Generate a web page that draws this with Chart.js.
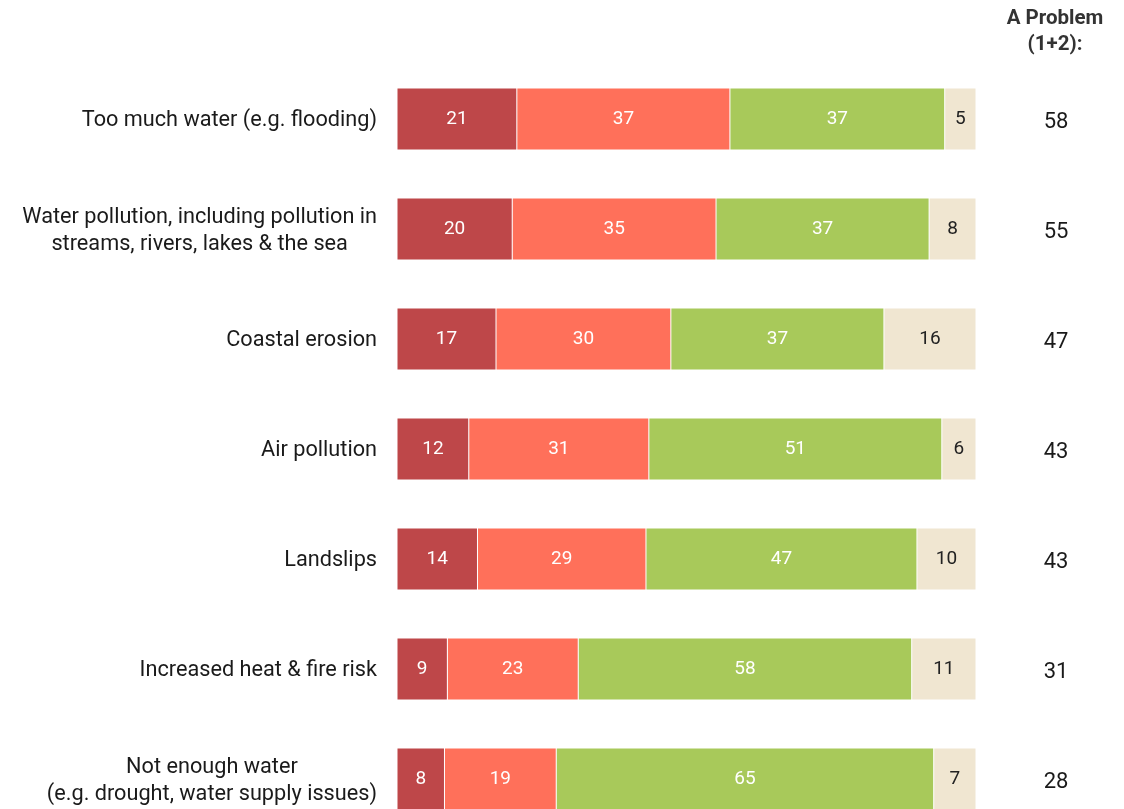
<!DOCTYPE html>
<html>
<head>
<meta charset="utf-8">
<script src="https://cdn.jsdelivr.net/npm/chart.js@4"></script>
<style>
html,body{margin:0;padding:0;background:#fff;overflow:hidden;width:1124px;height:809px;}
canvas{display:block;}
</style>
</head>
<body>
<canvas id="c" width="1124" height="840"></canvas>
<script>
const categories = [
  ["Too much water (e.g. flooding)"],
  ["Water pollution, including pollution in", "streams, rivers, lakes & the sea"],
  ["Coastal erosion"],
  ["Air pollution"],
  ["Landslips"],
  ["Increased heat & fire risk"],
  ["Not enough water", "(e.g. drought, water supply issues)"]
];
const seriesNames = ["1", "2", "3", "4"];
// bar shares (unrounded)
const series1 = [20.7, 19.9, 17.1, 12.4, 13.9, 8.7, 8.2];
const series2 = [36.8, 35.2, 30.2, 31.1, 29.1, 22.6, 19.3];
const series3 = [37.1, 36.8, 36.8, 50.6, 46.8, 57.6, 65.2];
const series4 = [5.4, 8.1, 15.9, 5.9, 10.2, 11.1, 7.3];
const problemTotals = [58, 55, 47, 43, 43, 31, 28];
const problemHeader = ["A Problem", "(1+2):"];
const colors = ["#BE4749", "#FF705A", "#A8C95A", "#F0E6D1"];
const labelColors = ["#ffffff", "#ffffff", "#ffffff", "#222222"];

const FONT = "Roboto, 'Open Sans', sans-serif";

const overlay = {
  id: 'overlay',
  afterDatasetsDraw(chart) {
    const ctx = chart.ctx;
    const y = chart.scales.y;
    const area = chart.chartArea;
    ctx.save();
    // segment values
    chart.data.datasets.forEach((ds, di) => {
      const meta = chart.getDatasetMeta(di);
      meta.data.forEach((bar, i) => {
        const v = ds.data[i];
        ctx.fillStyle = labelColors[di];
        ctx.font = "19px " + FONT;
        ctx.textAlign = "center";
        ctx.textBaseline = "middle";
        const cx = (bar.x + bar.base) / 2;
        ctx.fillText(String(Math.round(v)), cx, bar.y);
      });
    });
    // category labels: block right-aligned, lines centred
    ctx.font = "21.7px " + FONT;
    ctx.fillStyle = "#1a1a1a";
    ctx.textBaseline = "middle";
    ctx.textAlign = "center";
    const right = area.left - 20;
    const lh = 27;
    categories.forEach((lines, i) => {
      const py = y.getPixelForValue(i) + 2;
      const w = Math.max(...lines.map(l => ctx.measureText(l).width));
      const cx = right - w / 2;
      const y0 = py - (lines.length - 1) * lh / 2;
      lines.forEach((l, k) => ctx.fillText(l, cx, y0 + k * lh));
    });
    // right column
    const colX = 1056;
    ctx.font = "22px " + FONT;
    ctx.fillStyle = "#1a1a1a";
    problemTotals.forEach((v, i) => {
      ctx.fillText(String(v), colX, y.getPixelForValue(i) + 3);
    });
    ctx.font = "bold 20.5px " + FONT;
    ctx.fillStyle = "#333333";
    problemHeader.forEach((l, k) => ctx.fillText(l, 1055, 19 + k * 26));
    ctx.restore();
  }
};

new Chart(document.getElementById('c'), {
  type: 'bar',
  data: {
    labels: categories,
    datasets: [series1, series2, series3, series4].map((d, i) => ({
      label: seriesNames[i],
      data: d,
      backgroundColor: colors[i],
      borderColor: 'rgba(255,255,255,0.5)',
      borderWidth: 0.5,
      borderSkipped: false,
      barPercentage: 1,
      categoryPercentage: 62 / 110
    }))
  },
  options: {
    indexAxis: 'y',
    responsive: false,
    animation: false,
    layout: { padding: { left: 397, right: 148, top: 64, bottom: 6 } },
    plugins: { legend: { display: false }, tooltip: { enabled: false } },
    scales: {
      x: { stacked: true, min: 0, max: 100, display: false },
      y: { stacked: true, display: false }
    }
  },
  plugins: [overlay]
});
</script>
</body>
</html>
